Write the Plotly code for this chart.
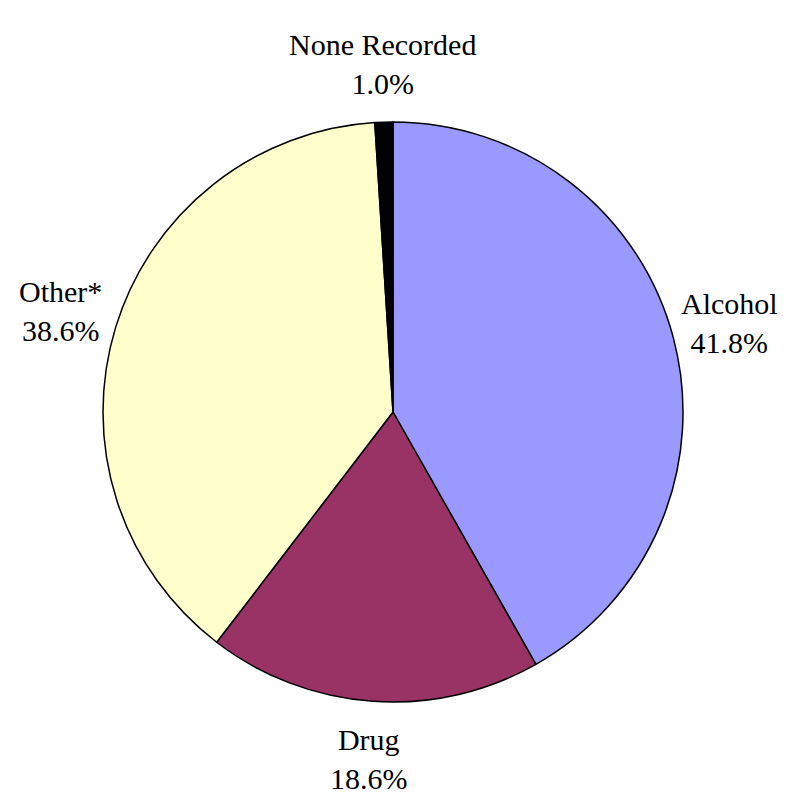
import math
import plotly.graph_objects as go

labels = ["Alcohol", "Drug", "Other*", "None Recorded"]
values = [41.8, 18.6, 38.6, 1.0]
colors = ["#9999FF", "#993366", "#FFFFCC", "#000000"]

W, H = 794, 796
dom_x = [93 / W, 677 / W]
dom_y = [102 / H, 682 / H]

fig = go.Figure(go.Pie(
    labels=labels,
    values=values,
    sort=False,
    direction="clockwise",
    rotation=0,
    marker=dict(colors=colors, line=dict(color="black", width=1.5)),
    textinfo="none",
    domain=dict(x=dom_x, y=dom_y),
    showlegend=False,
    hoverinfo="label+percent",
))

# label placement along each slice's mid-angle, outside the pie
cx = (dom_x[0] + dom_x[1]) / 2 * W
cy = (1 - (dom_y[0] + dom_y[1]) / 2) * H
radius = min((dom_x[1] - dom_x[0]) * W, (dom_y[1] - dom_y[0]) * H) / 2
label_dist = radius * 1.2
total = sum(values)
cum = 0.0
for lab, v in zip(labels, values):
    mid = (cum + v / 2) / total * 2 * math.pi
    cum += v
    px = cx + label_dist * math.sin(mid)
    py = cy - label_dist * math.cos(mid)
    fig.add_annotation(
        x=px / W, y=1 - py / H, xref="paper", yref="paper",
        text=f"{lab}<br>{v / total * 100:.1f}%",
        showarrow=False, xanchor="center", yanchor="middle",
        font=dict(family="Liberation Serif, Times New Roman, serif", size=30, color="black"),
    )

fig.update_layout(
    width=W, height=H,
    margin=dict(l=0, r=0, t=0, b=0),
    paper_bgcolor="white",
    plot_bgcolor="white",
)

fig.write_html("out.html")
